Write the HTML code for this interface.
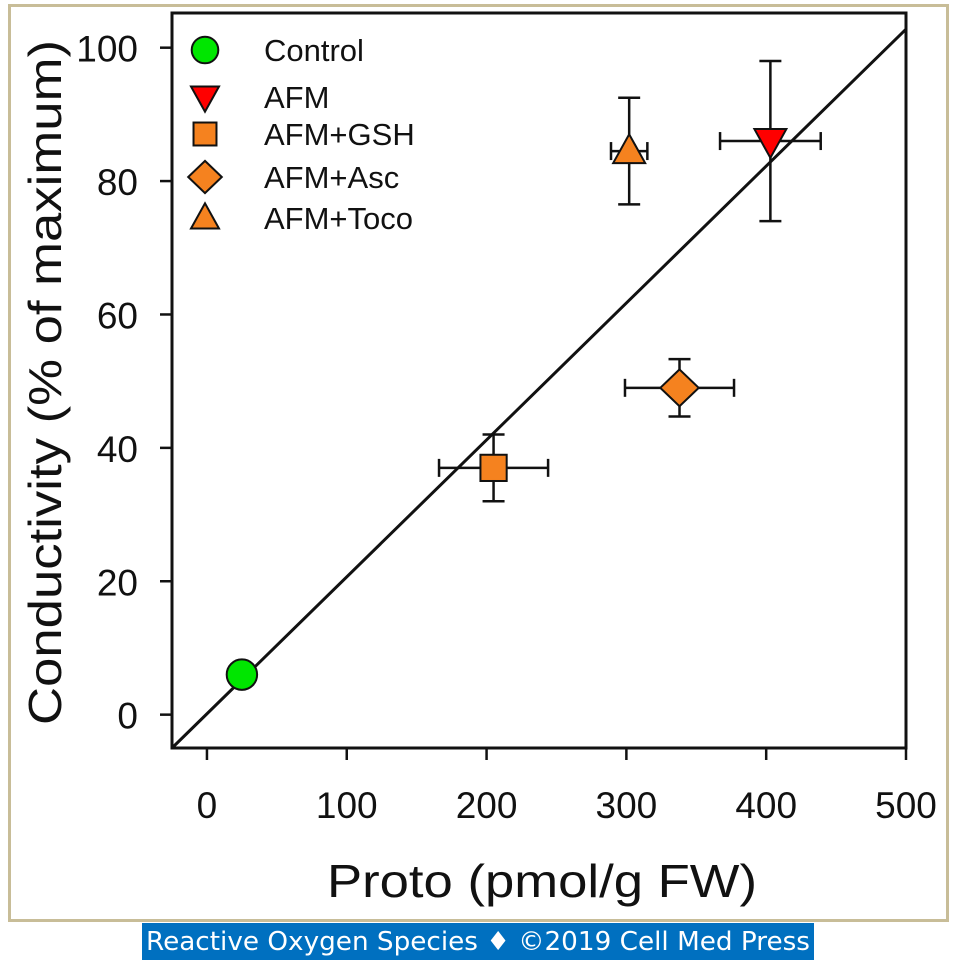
<!DOCTYPE html>
<html><head><meta charset="utf-8"><style>
body{margin:0;background:#fff;width:954px;height:965px;overflow:hidden;font-family:"Liberation Sans",sans-serif}
</style></head><body>
<svg id="chart" width="954" height="965" xmlns="http://www.w3.org/2000/svg">
<rect x="9.5" y="5.5" width="938" height="915" fill="#fff" stroke="#c8bd98" stroke-width="3"/>
<rect x="142" y="923" width="672" height="37" fill="#0070c0"/>
<text x="146" y="950" textLength="664" lengthAdjust="spacingAndGlyphs" font-size="26" fill="#fff" font-family="'DejaVu Sans','Liberation Sans',sans-serif">Reactive Oxygen Species ♦ ©2019 Cell Med Press</text>
<g id="plot"></g>
</svg>
<script>
const labels=["Control","AFM","AFM+GSH","AFM+Asc","AFM+Toco"];
const xVals=[25,403,205,338,302];
const yVals=[6,86,37,49,84.5];
const xErr=[0,36,39,39,13];
const yErr=[0,12,5,4.3,8];
const xTicks=[0,100,200,300,400,500];
const yTicks=[0,20,40,60,80,100];
const fitLine=[0.13,0.2053];
const shapes=["circle","tri-down","square","diamond","tri-up"];
const colors=["#00e600","#ff0000","#f5821f","#f5821f","#f5821f"];

const X0=172,X1=906,Y0=748,Y1=13,xmin=-25,xmax=500,ymin=-5,ymax=105.2;
const sx=v=>X0+(v-xmin)/(xmax-xmin)*(X1-X0);
const sy=v=>Y0-(v-ymin)/(ymax-ymin)*(Y0-Y1);
const NS="http://www.w3.org/2000/svg";
const g=document.getElementById('plot');
function mk(t,a,p){const e=document.createElementNS(NS,t);for(const k in a)e.setAttribute(k,a[k]);(p||g).appendChild(e);return e;}
function marker(shape,cx,cy,fill,s){
 let e;
 if(shape==="circle")e=mk('circle',{cx,cy,r:s*0.95});
 else if(shape==="square")e=mk('rect',{x:cx-s*0.82,y:cy-s*0.82,width:s*1.64,height:s*1.64});
 else if(shape==="diamond")e=mk('polygon',{points:`${cx},${cy-s*1.15} ${cx+s*1.2},${cy} ${cx},${cy+s*1.15} ${cx-s*1.2},${cy}`});
 else if(shape==="tri-down")e=mk('polygon',{points:`${cx-s},${cy-s*0.75} ${cx+s},${cy-s*0.75} ${cx},${cy+s*1.05}`});
 else e=mk('polygon',{points:`${cx-s},${cy+s*0.75} ${cx+s},${cy+s*0.75} ${cx},${cy-s*1.05}`});
 e.setAttribute('fill',fill);e.setAttribute('stroke','#111');e.setAttribute('stroke-width','2');
 return e;
}
const fr=mk('rect',{x:X0,y:Y1,width:X1-X0,height:Y0-Y1,fill:'none',stroke:'#111','stroke-width':3});


xTicks.forEach(t=>{
 const l=mk('line',{x1:sx(t),x2:sx(t),y1:Y0,y2:Y0+12,stroke:'#111','stroke-width':2.5});
 
 
 const tx=mk('text',{x:sx(t),y:818,'text-anchor':'middle','font-size':37,fill:'#111'});tx.textContent=t;
 
 
});
yTicks.forEach(t=>{
 const l=mk('line',{x1:X0-12,x2:X0,y1:sy(t),y2:sy(t),stroke:'#111','stroke-width':2.5});
 
 
 const tx=mk('text',{x:138,y:sy(t)+14,'text-anchor':'end','font-size':37,fill:'#111'});tx.textContent=t;
 
 
});
const xt=mk('text',{x:327,y:897,textLength:430,lengthAdjust:'spacingAndGlyphs','font-size':46,fill:'#111'});xt.textContent="Proto (pmol/g FW)";


const yt=mk('text',{x:0,y:0,textLength:685,lengthAdjust:'spacingAndGlyphs','font-size':46,fill:'#111',transform:'translate(61,725) rotate(-90)'});yt.textContent="Conductivity (% of maximum)";


const fy=x=>fitLine[0]+fitLine[1]*x;
const lx0=(ymin-fitLine[0])/fitLine[1];
const fl=mk('line',{x1:sx(Math.max(xmin,lx0)),y1:sy(fy(Math.max(xmin,lx0))),x2:sx(xmax),y2:sy(fy(xmax)),stroke:'#111','stroke-width':3});


labels.forEach((lab,i)=>{
 const cx=sx(xVals[i]),cy=sy(yVals[i]);
 const eg=mk('g',{stroke:'#111','stroke-width':2.5});
 
 
 if(xErr[i]){const a=sx(xVals[i]-xErr[i]),b=sx(xVals[i]+xErr[i]);
  mk('line',{x1:a,x2:b,y1:cy,y2:cy},eg);mk('line',{x1:a,x2:a,y1:cy-9,y2:cy+9},eg);mk('line',{x1:b,x2:b,y1:cy-9,y2:cy+9},eg);}
 if(yErr[i]){const a=sy(yVals[i]-yErr[i]),b=sy(yVals[i]+yErr[i]);
  mk('line',{x1:cx,x2:cx,y1:a,y2:b},eg);mk('line',{x1:cx-11,x2:cx+11,y1:a,y2:a},eg);mk('line',{x1:cx-11,x2:cx+11,y1:b,y2:b},eg);}
 const m=marker(shapes[i],cx,cy,colors[i],16);
 
 
});
const ly=[50,97,134,177,218];
labels.forEach((lab,i)=>{
 const m=marker(shapes[i],205,ly[i],colors[i],14);
 
 
 const t=mk('text',{x:264,y:ly[i]+11,'font-size':31,fill:'#111'});t.textContent=lab;
 
 
});
</script>
</body></html>
